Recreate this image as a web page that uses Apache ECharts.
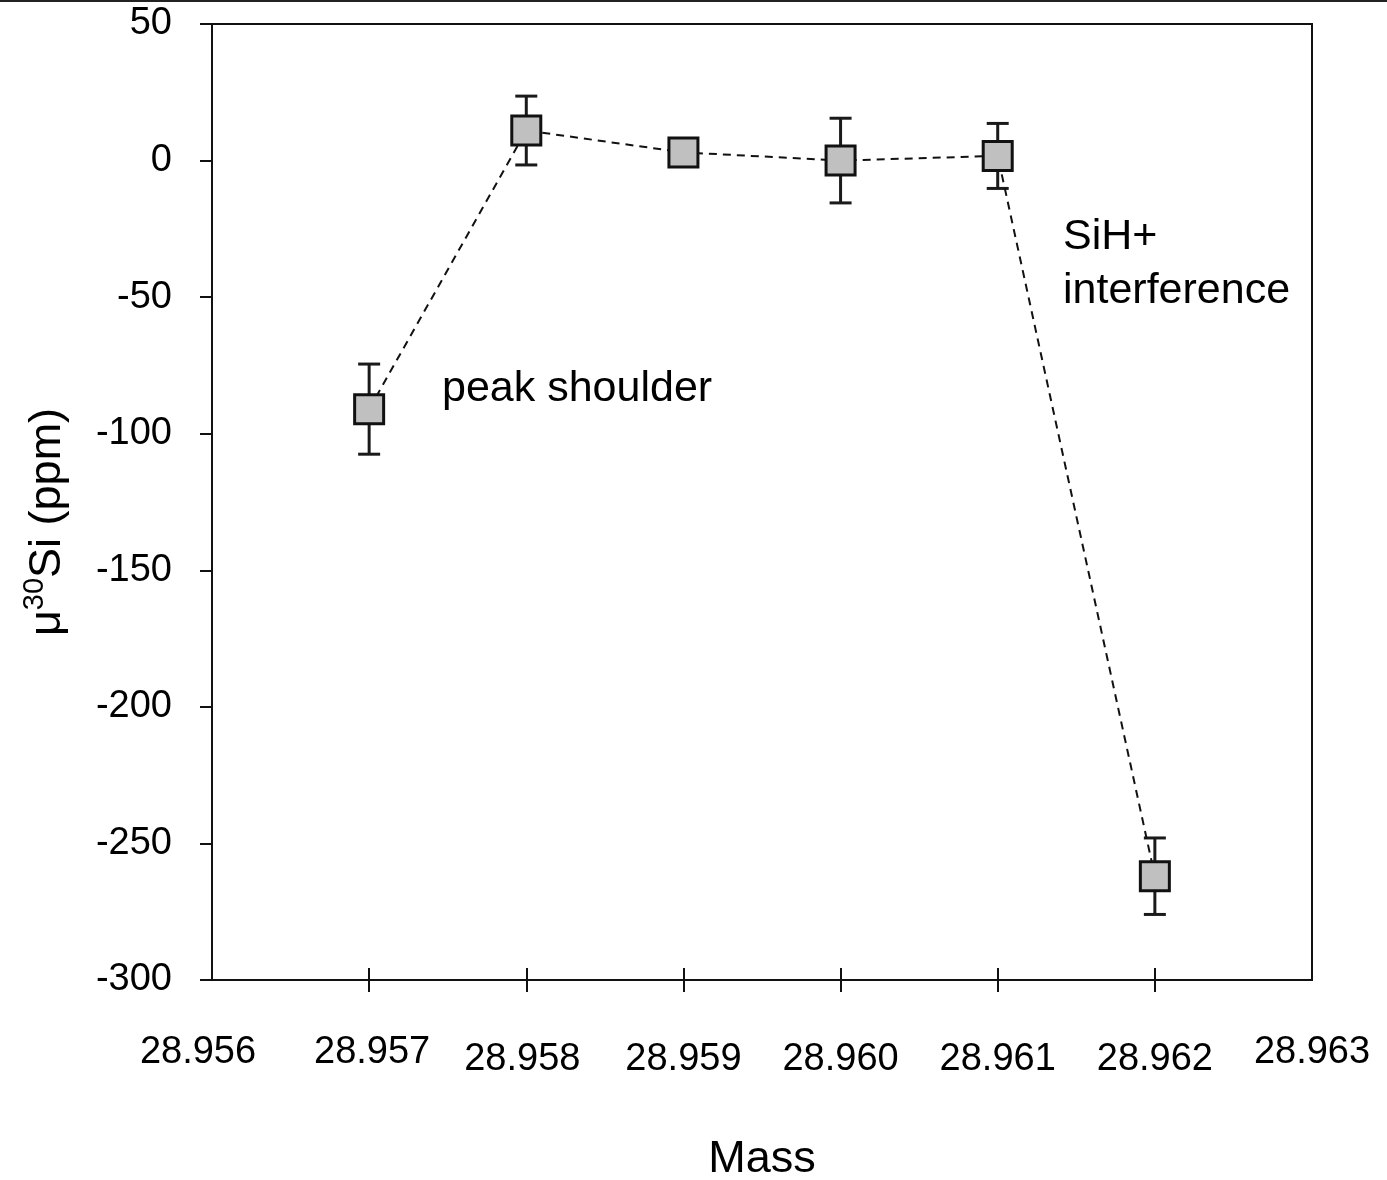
<!DOCTYPE html>
<html>
<head>
<meta charset="utf-8">
<title>μ30Si vs Mass</title>
<script src="https://cdn.jsdelivr.net/npm/echarts@6/dist/echarts.min.js"></script>
<style>
  html, body { margin: 0; padding: 0; background: #fff; }
  #chart { width: 1387px; height: 1180px; }
</style>
</head>
<body>
<div id="chart"></div>
<script>
// Mass axis labels and the interior tick marks
const massLabels = [28.956, 28.957, 28.958, 28.959, 28.960, 28.961, 28.962, 28.963];
const massTickMarks = [28.957, 28.958, 28.959, 28.960, 28.961, 28.962];

// Measured points: mass, μ30Si (ppm) and the ± error (null = bar hidden by marker)
const mass = [28.957, 28.958, 28.959, 28.960, 28.961, 28.962];
const mu30Si = [-91, 11, 3, 0, 1.7, -262];
const errorPpm = [16.5, 12.6, null, 15.5, 11.9, 14];

// Y axis ticks
const yMin = -300, yMax = 50, yStep = 50;

const FONT = '"Liberation Sans", Arial, Helvetica, sans-serif';

const points = mass.map((m, i) => [m, mu30Si[i]]);
const errorBars = mass
  .map((m, i) => errorPpm[i] == null ? null : [m, mu30Si[i] - errorPpm[i], mu30Si[i] + errorPpm[i]])
  .filter(d => d !== null);

// small per-label nudges for the mass labels
const labelStyleByText = {
  '28.956': 'l14',
  '28.957': 'r3',
  '28.958': 'l4low',
  '28.959': 'low',
  '28.960': 'low',
  '28.961': 'low',
  '28.962': 'low',
  '28.963': 'base'
};
const lblBase = { fontSize: 38, fontFamily: FONT, color: '#000', lineHeight: 38 };

const chart = echarts.init(document.getElementById('chart'), null, { renderer: 'canvas' });

const axisLineStyle = { color: '#111', width: 2 };

chart.setOption({
  animation: false,
  backgroundColor: '#fff',
  grid: {
    left: 212, top: 24, right: 75, height: 956,
    outerBoundsMode: 'none',
    containLabel: false,
    show: true, borderColor: '#111', borderWidth: 2, backgroundColor: 'transparent'
  },
  xAxis: [
    {
      type: 'value',
      min: 28.956, max: 28.963, interval: 0.001,
      position: 'bottom',
      axisLine: { show: true, onZero: false, lineStyle: axisLineStyle },
      axisTick: { show: true, inside: false, length: 12, customValues: massTickMarks, lineStyle: axisLineStyle },
      axisLabel: {
        show: true,
        customValues: massLabels,
        margin: 54,
        formatter: v => {
          const t = v.toFixed(3);
          return '{' + (labelStyleByText[t] || 'base') + '|' + t + '}';
        },
        rich: {
          base: Object.assign({}, lblBase),
          low: Object.assign({}, lblBase, { lineHeight: 52 }),
          l14: Object.assign({}, lblBase, { padding: [0, 28, 0, 0] }),
          r3: Object.assign({}, lblBase, { padding: [0, 0, 0, 6] }),
          l4low: Object.assign({}, lblBase, { lineHeight: 52, padding: [0, 8, 0, 0] })
        }
      },
      splitLine: { show: false },
      name: 'Mass',
      nameLocation: 'middle',
      nameGap: 157,
      nameTextStyle: { fontSize: 45, fontFamily: FONT, color: '#000', verticalAlign: 'top' }
    },
    {
      // inner half of the crossing tick marks
      type: 'value',
      min: 28.956, max: 28.963, interval: 0.001,
      position: 'bottom',
      offset: 0,
      axisLine: { show: false, onZero: false },
      axisTick: { show: true, inside: true, length: 12, customValues: massTickMarks, lineStyle: axisLineStyle },
      axisLabel: { show: false },
      splitLine: { show: false }
    }
  ],
  yAxis: {
    type: 'value',
    min: yMin, max: yMax, interval: yStep,
    axisLine: { show: true, onZero: false, lineStyle: axisLineStyle },
    axisTick: { show: true, inside: false, length: 12, lineStyle: axisLineStyle },
    axisLabel: { fontSize: 38, fontFamily: FONT, color: '#000', margin: 40, padding: [6, 0, 0, 0] },
    splitLine: { show: false },
    name: '{m|μ}{s|30}{m|Si (ppm)}',
    nameLocation: 'middle',
    nameRotate: 90,
    nameGap: 142,
    nameTextStyle: {
      fontFamily: FONT,
      color: '#000',
      padding: [0, 40, 0, 0],
      rich: {
        m: { fontSize: 45, fontFamily: FONT, color: '#000', lineHeight: 50, verticalAlign: 'bottom' },
        s: { fontSize: 29, fontFamily: FONT, color: '#000', lineHeight: 50, verticalAlign: 'top', padding: [0, 0, 22, 0] }
      }
    }
  },
  series: [
    {
      name: 'error',
      type: 'custom',
      z: 1,
      data: errorBars,
      renderItem: (params, api) => {
        const x = api.value(0);
        const top = api.coord([x, api.value(2)]);
        const bot = api.coord([x, api.value(1)]);
        const hw = 11;
        const style = { stroke: '#1a1a1a', lineWidth: 3 };
        return {
          type: 'group',
          children: [
            { type: 'line', shape: { x1: top[0], y1: top[1], x2: bot[0], y2: bot[1] }, style },
            { type: 'line', shape: { x1: top[0] - hw, y1: top[1], x2: top[0] + hw, y2: top[1] }, style },
            { type: 'line', shape: { x1: bot[0] - hw, y1: bot[1], x2: bot[0] + hw, y2: bot[1] }, style }
          ]
        };
      }
    },
    {
      name: 'μ30Si',
      type: 'line',
      z: 2,
      data: points,
      symbol: 'rect',
      symbolSize: 29,
      lineStyle: { color: '#111', width: 2, type: [8, 6] },
      itemStyle: { color: '#c0c0c0', borderColor: '#111', borderWidth: 3 }
    }
  ],
  graphic: [
    { type: 'rect', left: 0, top: 0, shape: { width: 1387, height: 2 }, style: { fill: '#222' }, silent: true },
    {
      type: 'text', x: 442, y: 389,
      style: { text: 'peak shoulder', font: '43px ' + FONT, fill: '#000', verticalAlign: 'middle' }
    },
    {
      type: 'text', x: 1063, y: 210,
      style: { text: 'SiH+\ninterference', font: '43px ' + FONT, fill: '#000', lineHeight: 54, verticalAlign: 'top' }
    }
  ]
});
</script>
</body>
</html>
